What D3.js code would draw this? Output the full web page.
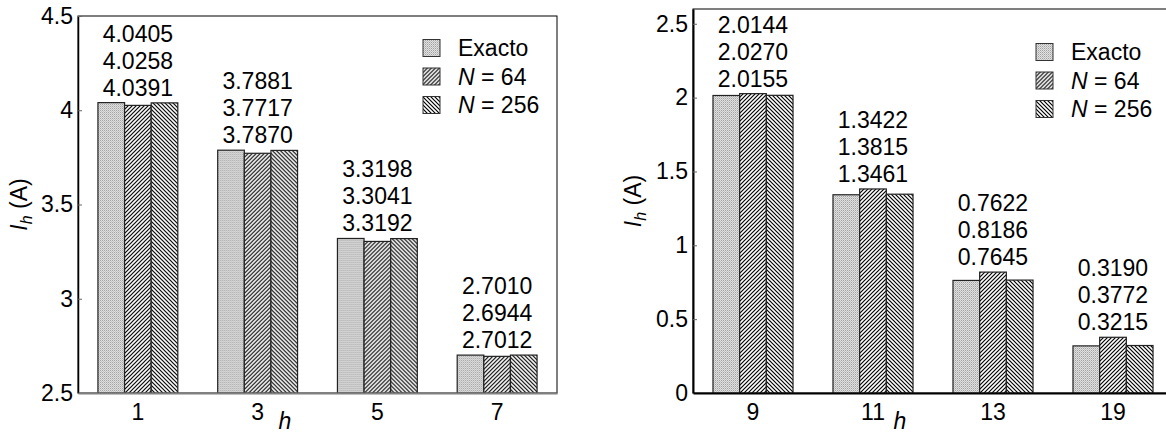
<!DOCTYPE html>
<html>
<head>
<meta charset="utf-8">
<script src="https://cdn.jsdelivr.net/npm/d3@7"></script>
<style>
  html, body { margin: 0; padding: 0; background: #fff; }
  svg { display: block; font-family: "Liberation Sans", Arial, Helvetica, sans-serif; }
</style>
</head>
<body>
<svg id="chart" width="1166" height="435"></svg>
<script>
// Harmonic currents: exact values vs. N = 64 and N = 256 samples
const seriesNames = ["Exacto", "N = 64", "N = 256"];

// Low-order harmonics
const harmonicsLow = ["1", "3", "5", "7"];
const exactLow = [4.0405, 3.7881, 3.3198, 2.7010];
const n64Low = [4.0258, 3.7717, 3.3041, 2.6944];
const n256Low = [4.0391, 3.7870, 3.3192, 2.7012];
const yTicksLow = [2.5, 3, 3.5, 4, 4.5];

// High-order harmonics
const harmonicsHigh = ["9", "11", "13", "19"];
const exactHigh = [2.0144, 1.3422, 0.7622, 0.3190];
const n64High = [2.0270, 1.3815, 0.8186, 0.3772];
const n256High = [2.0155, 1.3461, 0.7645, 0.3215];
const yTicksHigh = [0, 0.5, 1, 1.5, 2, 2.5];

const svg = d3.select("#chart");
const FONT = 23;

// Fill patterns: fine dots, forward hatch, backward hatch
const defs = svg.append("defs");
const dots = defs.append("pattern").attr("id", "pDots")
  .attr("patternUnits", "userSpaceOnUse").attr("width", 2).attr("height", 2);
dots.append("rect").attr("width", 2).attr("height", 2).attr("fill", "#e2e2e2");
dots.append("rect").attr("x", 0).attr("y", 0).attr("width", 1).attr("height", 1).attr("fill", "#a0a0a0");
dots.append("rect").attr("x", 1).attr("y", 1).attr("width", 1).attr("height", 1).attr("fill", "#c0c0c0");

const fwd = defs.append("pattern").attr("id", "pFwd")
  .attr("patternUnits", "userSpaceOnUse").attr("width", 4).attr("height", 4);
fwd.append("rect").attr("width", 4).attr("height", 4).attr("fill", "#fff");
fwd.append("path").attr("d", "M-1,1 l2,-2 M0,4 l4,-4 M3,5 l2,-2")
  .attr("stroke", "#000").attr("stroke-width", 1.2);

const back = defs.append("pattern").attr("id", "pBack")
  .attr("patternUnits", "userSpaceOnUse").attr("width", 4).attr("height", 4);
back.append("rect").attr("width", 4).attr("height", 4).attr("fill", "#fff");
back.append("path").attr("d", "M-1,3 l2,2 M0,0 l4,4 M3,-1 l2,2")
  .attr("stroke", "#000").attr("stroke-width", 1.2);

const fills = ["url(#pDots)", "url(#pFwd)", "url(#pBack)"];

function drawPanel(opt) {
  const { left, top, bottom, width, cats, values, yDomain, yTicks,
          bottomColor, leftWidth, bottomWidth, legendX, legendY, titleX } = opt;
  const g = svg.append("g");

  const x = d3.scaleBand().domain(cats).range([left, left + width])
    .paddingInner(0.333).paddingOuter(0.1665);
  const xs = d3.scaleBand().domain(d3.range(seriesNames.length))
    .range([0, x.bandwidth()]).padding(0);
  const y = d3.scaleLinear().domain(yDomain).range([bottom, top]);

  // frame (top and right edges)
  g.append("rect")
    .attr("x", left).attr("y", top)
    .attr("width", width).attr("height", bottom - top)
    .attr("fill", "none").attr("stroke", "#000").attr("stroke-width", 1);

  // bars
  const rows = cats.map((c, i) => ({ cat: c, vals: values.map(v => v[i]) }));
  const groups = g.selectAll("g.grp").data(rows).join("g")
    .attr("class", "grp")
    .attr("transform", d => `translate(${x(d.cat)},0)`);
  groups.selectAll("rect").data(d => d.vals).join("rect")
    .attr("x", (d, i) => xs(i))
    .attr("y", d => y(d))
    .attr("width", xs.bandwidth())
    .attr("height", d => bottom - y(d))
    .attr("fill", (d, i) => fills[i])
    .attr("stroke", "#222").attr("stroke-width", 1.2);

  // stacked value labels above each group
  const fmt = d3.format(".4f");
  groups.each(function (d) {
    const base = y(d3.max(d.vals)) - 7;
    const n = d.vals.length;
    d3.select(this).selectAll("text.val").data(d.vals).join("text")
      .attr("class", "val")
      .attr("x", x.bandwidth() / 2)
      .attr("y", (v, i) => base - (n - 1 - i) * 27)
      .attr("text-anchor", "middle")
      .attr("font-size", FONT)
      .attr("fill", "#000")
      .text(v => fmt(v));
  });

  // y axis (ticks point inward)
  const yAxis = g.append("g")
    .attr("transform", `translate(${left},0)`)
    .call(d3.axisLeft(y).tickValues(yTicks).tickSizeInner(-4).tickSizeOuter(0)
      .tickPadding(5).tickFormat(d3.format("")));
  yAxis.select(".domain").attr("stroke", "#000").attr("stroke-width", leftWidth);
  yAxis.selectAll(".tick line").attr("stroke", "#666");
  yAxis.selectAll(".tick text").attr("font-size", FONT).attr("fill", "#000")
    .attr("font-family", "inherit");

  // x axis
  const xAxis = g.append("g")
    .attr("transform", `translate(0,${bottom})`)
    .call(d3.axisBottom(x).tickSize(0).tickPadding(11));
  xAxis.select(".domain").attr("stroke", bottomColor).attr("stroke-width", bottomWidth);
  xAxis.selectAll(".tick text").attr("font-size", FONT).attr("fill", "#000")
    .attr("font-family", "inherit");

  // axis titles
  const yt = g.append("text")
    .attr("transform", `translate(${titleX},${(top + bottom) / 2}) rotate(-90)`)
    .attr("text-anchor", "middle").attr("font-size", FONT);
  yt.append("tspan").attr("font-style", "italic").text("I");
  yt.append("tspan").attr("font-style", "italic").attr("font-size", FONT * 0.7)
    .attr("dy", 5).text("h");
  yt.append("tspan").attr("dy", -5).text(" (A)");

  g.append("text")
    .attr("x", left + 207).attr("y", 429)
    .attr("text-anchor", "middle").attr("font-size", FONT)
    .attr("font-style", "italic").text("h");

  // legend
  const lg = g.append("g").attr("transform", `translate(${legendX},${legendY})`);
  seriesNames.forEach((name, i) => {
    const row = lg.append("g").attr("transform", `translate(0,${i * 28.5})`);
    row.append("rect").attr("x", 0).attr("y", -8.5).attr("width", 17).attr("height", 17)
      .attr("fill", fills[i]).attr("stroke", "#333").attr("stroke-width", 1);
    const t = row.append("text").attr("x", 35).attr("y", 8).attr("font-size", FONT);
    if (name.startsWith("N")) {
      t.append("tspan").attr("font-style", "italic").text("N");
      t.append("tspan").text(name.slice(1));
    } else {
      t.text(name);
    }
  });
}

drawPanel({
  left: 78, top: 16, bottom: 393, width: 479,
  cats: harmonicsLow, values: [exactLow, n64Low, n256Low],
  yDomain: [2.5, 4.5], yTicks: yTicksLow,
  bottomColor: "#808080", leftWidth: 1.5, bottomWidth: 2,
  legendX: 423, legendY: 48, titleX: 27
});

drawPanel({
  left: 693, top: 9, bottom: 393, width: 480,
  cats: harmonicsHigh, values: [exactHigh, n64High, n256High],
  yDomain: [0, 2.6], yTicks: yTicksHigh,
  bottomColor: "#000", leftWidth: 2, bottomWidth: 2,
  legendX: 1036, legendY: 52, titleX: 641
});
</script>
</body>
</html>
